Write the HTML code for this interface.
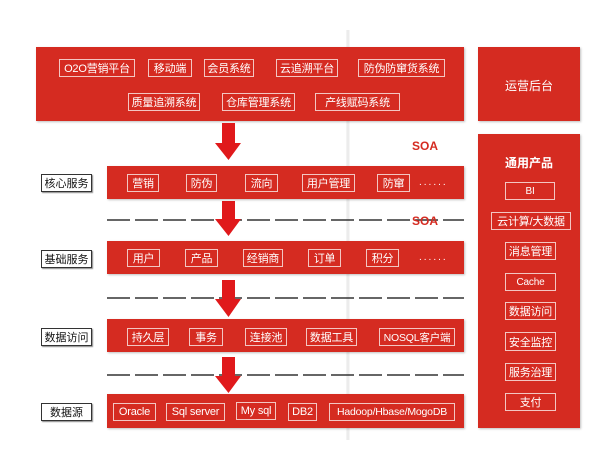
<!DOCTYPE html>
<html><head><meta charset="utf-8"><style>
body{margin:0;width:600px;height:472px;background:#fff;position:relative;overflow:hidden;font-family:"Liberation Sans","Noto Sans CJK SC",sans-serif}
.r{position:absolute;background:#d52b21;box-shadow:1px 1px 2px rgba(0,0,0,.25)}
.b{position:absolute;border:1.5px solid #f3c6c2;color:#fff;font-size:11px;display:flex;align-items:center;justify-content:center;box-sizing:border-box;white-space:nowrap;letter-spacing:-0.2px}
.l{position:absolute;border:1px solid #333;box-shadow:1px 1px 1px #888;font-size:11px;display:flex;align-items:center;justify-content:center;box-sizing:border-box;color:#111}
.soa{position:absolute;color:#d52b21;font-weight:bold;font-size:12px}
.dots{position:absolute;color:#fff;font-size:10px;letter-spacing:2px}
.t{position:absolute;color:#fff;font-size:12px;text-align:center}
</style></head><body>
<div style="position:absolute;left:346px;top:30px;width:4px;height:410px;background:linear-gradient(90deg,rgba(0,0,0,.03),rgba(0,0,0,.09),rgba(0,0,0,.02))"></div>

<div class="r" style="left:36px;top:47px;width:428px;height:74px"></div>
<div class="b" style="left:59px;top:59px;width:76px;height:18px">O2O营销平台</div>
<div class="b" style="left:148px;top:59px;width:44px;height:18px">移动端</div>
<div class="b" style="left:204px;top:59px;width:50px;height:18px">会员系统</div>
<div class="b" style="left:276px;top:59px;width:62px;height:18px">云追溯平台</div>
<div class="b" style="left:358px;top:59px;width:87px;height:18px">防伪防窜货系统</div>
<div class="b" style="left:128px;top:93px;width:72px;height:18px">质量追溯系统</div>
<div class="b" style="left:222px;top:93px;width:73px;height:18px">仓库管理系统</div>
<div class="b" style="left:315px;top:93px;width:85px;height:18px">产线赋码系统</div>

<svg style="position:absolute;left:0;top:0" width="600" height="472">
<g stroke="#333" stroke-width="1.5" stroke-dasharray="23,5">
<line x1="107" y1="220" x2="464" y2="220"/>
<line x1="107" y1="298" x2="464" y2="298"/>
<line x1="107" y1="375" x2="464" y2="375"/>
</g>
<g fill="#e0191b">
<polygon points="222,123 235,123 235,143 241,143 228.5,160 215,143 222,143"/>
<polygon points="222,201 235,201 235,219 241,219 228.5,236 215,219 222,219"/>
<polygon points="222,280 235,280 235,299 241,299 228.5,317 215,299 222,299"/>
<polygon points="222,357 235,357 235,376 241,376 228.5,393 215,376 222,376"/>
</g></svg>

<div class="soa" style="left:412px;top:139px">SOA</div>
<div class="soa" style="left:412px;top:214px">SOA</div>

<div class="l" style="left:41px;top:174px;width:51px;height:18px">核心服务</div>
<div class="r" style="left:107px;top:166px;width:357px;height:33px"></div>
<div class="b" style="left:127px;top:174px;width:32px;height:18px">营销</div>
<div class="b" style="left:186px;top:174px;width:31px;height:18px">防伪</div>
<div class="b" style="left:245px;top:174px;width:33px;height:18px">流向</div>
<div class="b" style="left:302px;top:174px;width:53px;height:18px">用户管理</div>
<div class="b" style="left:377px;top:174px;width:33px;height:18px">防窜</div>
<div class="dots" style="left:419px;top:177px">......</div>

<div class="l" style="left:41px;top:250px;width:51px;height:18px">基础服务</div>
<div class="r" style="left:107px;top:241px;width:357px;height:33px"></div>
<div class="b" style="left:127px;top:249px;width:33px;height:18px">用户</div>
<div class="b" style="left:185px;top:249px;width:33px;height:18px">产品</div>
<div class="b" style="left:243px;top:249px;width:40px;height:18px">经销商</div>
<div class="b" style="left:308px;top:249px;width:33px;height:18px">订单</div>
<div class="b" style="left:366px;top:249px;width:33px;height:18px">积分</div>
<div class="dots" style="left:419px;top:252px">......</div>

<div class="l" style="left:41px;top:328px;width:51px;height:18px">数据访问</div>
<div class="r" style="left:107px;top:319px;width:357px;height:33px"></div>
<div class="b" style="left:127px;top:328px;width:42px;height:18px">持久层</div>
<div class="b" style="left:189px;top:328px;width:34px;height:18px">事务</div>
<div class="b" style="left:245px;top:328px;width:42px;height:18px">连接池</div>
<div class="b" style="left:306px;top:328px;width:51px;height:18px">数据工具</div>
<div class="b" style="left:379px;top:328px;width:76px;height:18px;font-size:10.5px">NOSQL客户端</div>

<div class="l" style="left:41px;top:403px;width:51px;height:18px">数据源</div>
<div class="r" style="left:107px;top:394px;width:357px;height:34px"></div>
<div class="b" style="left:113px;top:403px;width:43px;height:18px">Oracle</div>
<div class="b" style="left:166px;top:403px;width:59px;height:18px">Sql server</div>
<div class="b" style="left:236px;top:402px;width:40px;height:18px">My sql</div>
<div class="b" style="left:288px;top:403px;width:29px;height:18px">DB2</div>
<div class="b" style="left:329px;top:403px;width:126px;height:18px;font-size:10.5px">Hadoop/Hbase/MogoDB</div>

<div class="r" style="left:478px;top:47px;width:102px;height:74px"></div>
<div class="t" style="left:478px;top:77px;width:102px">运营后台</div>
<div class="r" style="left:478px;top:134px;width:102px;height:294px"></div>
<div class="t" style="left:478px;top:154px;width:102px;font-weight:bold">通用产品</div>
<div class="b" style="left:505px;top:182px;width:50px;height:18px;font-size:10px">BI</div>
<div class="b" style="left:491px;top:212px;width:80px;height:18px">云计算/大数据</div>
<div class="b" style="left:505px;top:242px;width:51px;height:18px">消息管理</div>
<div class="b" style="left:505px;top:273px;width:51px;height:18px;font-size:10px">Cache</div>
<div class="b" style="left:505px;top:302px;width:51px;height:18px">数据访问</div>
<div class="b" style="left:505px;top:332px;width:51px;height:19px">安全监控</div>
<div class="b" style="left:505px;top:363px;width:51px;height:18px">服务治理</div>
<div class="b" style="left:505px;top:393px;width:51px;height:18px">支付</div>
</body></html>
